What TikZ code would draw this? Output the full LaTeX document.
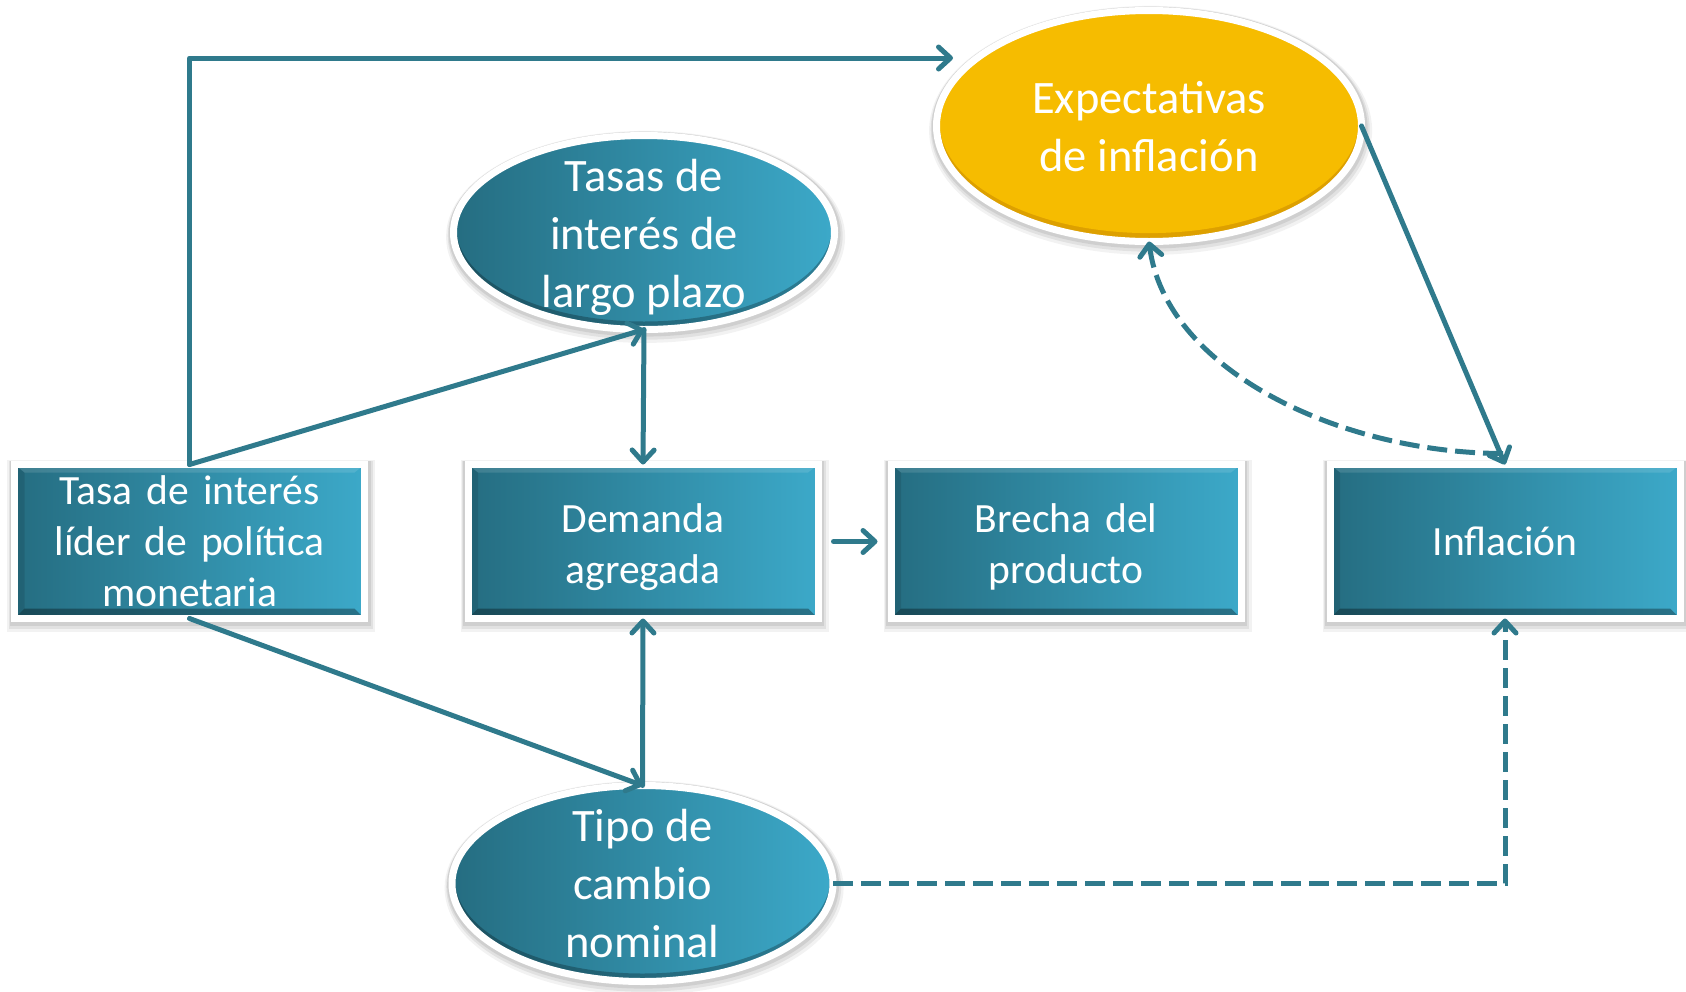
\documentclass[tikz,border=0pt]{standalone}
\usepackage{fontspec}
\setmainfont{Carlito}
\usetikzlibrary{arrows.meta,shapes.geometric,calc}
\definecolor{arrowc}{HTML}{2F7A8C}
\definecolor{tealdark}{HTML}{256D81}
\definecolor{teallight}{HTML}{3CA9C9}
\definecolor{yellowc}{HTML}{F6BC00}
\definecolor{yellowdark}{HTML}{DDA000}
\newcommand{\lowerstrut}{\rule{0pt}{20pt}}
\begin{document}
\begin{tikzpicture}[x=0.5pt,y=-0.5pt,
  softshadow/.style={
    preaction={draw=black,draw opacity=.05,line width=9pt,fill=none,transform canvas={xshift=0.8pt,yshift=-2.2pt}},
    preaction={draw=black,draw opacity=.07,line width=7pt,fill=none,transform canvas={xshift=0.6pt,yshift=-1.6pt}},
    preaction={draw=black,draw opacity=.08,line width=5.5pt,fill=none,transform canvas={xshift=0.3pt,yshift=-0.8pt}}},
  box/.style={rectangle, draw=white, line width=3.5pt, minimum width=175pt, minimum height=77pt,
    inner sep=0pt, outer sep=0pt, text width=172pt, align=center, text=white,
    font=\fontsize{20.8pt}{25.5pt}\selectfont, softshadow, left color=tealdark, right color=teallight,
    path picture={
      \fill[black,opacity=.32] (path picture bounding box.south west) -- (path picture bounding box.south east)
        -- ([shift={(-5pt,5pt)}]path picture bounding box.south east) -- ([shift={(5pt,5pt)}]path picture bounding box.south west) -- cycle;
      \fill[black,opacity=.10] (path picture bounding box.south west) -- (path picture bounding box.north west)
        -- ([shift={(5pt,-4pt)}]path picture bounding box.north west) -- ([shift={(5pt,5pt)}]path picture bounding box.south west) -- cycle;
      \fill[white,opacity=.12] (path picture bounding box.north west) -- (path picture bounding box.north east)
        -- ([shift={(-5pt,-4pt)}]path picture bounding box.north east) -- ([shift={(5pt,-4pt)}]path picture bounding box.north west) -- cycle;
    }},
  tealell/.style 2 args={ellipse, draw=white, line width=3.5pt, minimum width=#1, minimum height=#2,
    inner sep=0pt, outer sep=0pt, softshadow, left color=tealdark, right color=teallight,
    path picture={
      \fill[black,opacity=.25,even odd rule] (path picture bounding box.center) ellipse [x radius=#1/2, y radius=#2/2]
        ([yshift=2pt]path picture bounding box.center) ellipse [x radius=#1/2-1.5pt, y radius=#2/2-2pt];}},
  yell/.style 2 args={ellipse, draw=white, line width=3.5pt, minimum width=#1, minimum height=#2,
    inner sep=0pt, outer sep=0pt, softshadow, fill=yellowdark,
    path picture={
      \fill[yellowc] ([yshift=2pt]path picture bounding box.center) ellipse [x radius=#1/2-1.5pt, y radius=#2/2-2.2pt];}},
  etext/.style={text=white, align=center, inner sep=0pt, font=\fontsize{23.25pt}{29pt}\selectfont},
  conn/.style={draw=arrowc, line width=2.5pt, line cap=round, line join=round,
    -{Straight Barb[round,length=6pt,width=11pt]}},
  connd/.style={draw=arrowc, line width=2.5pt, line cap=butt, line join=miter, dash pattern=on 10pt off 4pt,
    -{Straight Barb[round,length=6pt,width=11pt]}}
]
\useasboundingbox (0,0) rectangle (1686,991);

% nodes
\node[box] (box1) at (189.5,541.5) {Tasa de interés\\líder de política\\monetaria};
\node[box] (box2) at (643,541.5) {\lowerstrut Demanda\\agregada};
\node[box] (box3) at (1066,541.5) {\lowerstrut Brecha del\\producto};
\node[box] (box4) at (1505,541.5) {Inflación};

\node[tealell={190.5pt}{97pt}] (tasas) at (644,232.5) {};
\node[etext] (tasasT) at ([yshift=-2.5pt]tasas.center) {Tasas de\\interés de\\largo plazo};

\node[tealell={190.5pt}{98pt}] (tipo) at (642.5,883.5) {};
\node[etext] (tipoT) at (tipo.center) {Tipo de\\cambio\\nominal};

\node[yell={212.5pt}{115.5pt}] (expec) at (1149,126) {};
\node[etext] (expecT) at ([yshift=-0.5pt]expec.center) {Expectativas\\de inflación};

\coordinate (expin) at (953,58);
\coordinate (dstart) at ($(box4.north)+(-2,-11)$);

% connectors
\draw[conn] (box1.north) |- (expin);
\draw[conn] (box1.north) -- (tasas.south);
\draw[conn] (tasas.south) -- (box2.north);
\draw[conn, shorten <=7.75pt, shorten >=6.75pt] (box2.east) -- (box3.west);
\draw[conn] (expec.east) -- (box4.north);
\draw[connd] (dstart) .. controls (1340,453) and (1165,370) .. (expec.south);
\draw[conn] (box1.south) -- (tipo.north);
\draw[conn] (tipo.north) -- (box2.south);
\draw[connd] (tipo.east) -| (box4.south);
\end{tikzpicture}
\end{document}
